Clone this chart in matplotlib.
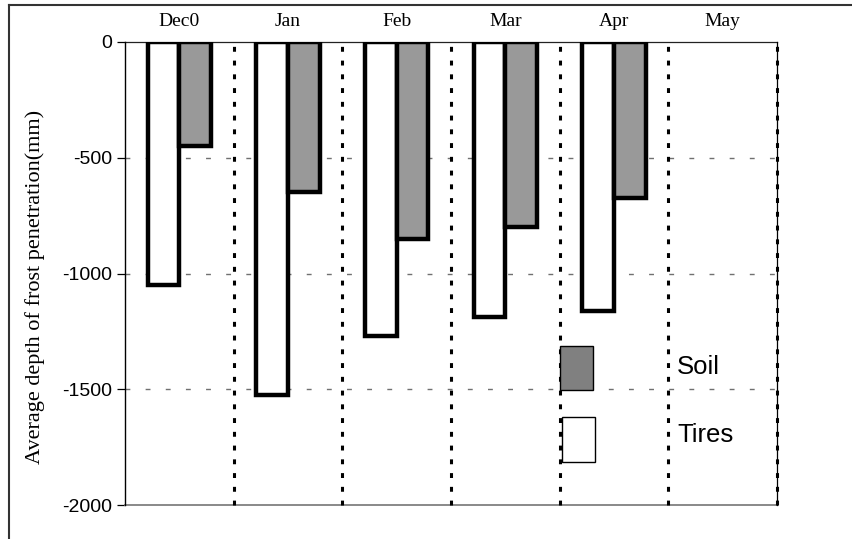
import matplotlib.pyplot as plt
from matplotlib.lines import Line2D
from matplotlib.patches import Rectangle
import numpy as np

# data
months = ["Dec0", "Jan", "Feb", "Mar", "Apr", "May"]
tires = [-1050, -1525, -1270, -1190, -1160]
soil = [-450, -650, -850, -800, -675]
yticks = [0, -500, -1000, -1500, -2000]

W, H = 852, 539
fig = plt.figure(figsize=(W / 100, H / 100), dpi=100)

def fx(px):
    return px / W

def fy(py):
    return 1 - py / H

ax = fig.add_axes([fx(125), fy(505), fx(777) - fx(125), fy(42) - fy(505)])

x = np.arange(len(tires)) + 0.5
bw = 0.29
ax.bar(x - 0.145, tires, width=bw, color="white", edgecolor="black", linewidth=3.2, zorder=3)
ax.bar(x + 0.145, soil, width=bw, color="#999999", edgecolor="black", linewidth=3.2, zorder=3)

ax.set_xlim(0, len(months))
ax.set_ylim(-2000, 0)

# grid lines
for v in [-500, -1000, -1500]:
    ax.axhline(v, color="#707070", lw=1.0, linestyle=(0, (3.5, 11)), zorder=1)
ax.axhline(0, color="#222222", lw=0.9, zorder=2, clip_on=False)
ax.axhline(-2000, color="#808080", lw=1.3, zorder=2, clip_on=False)
for i in range(1, len(months) + 1):
    ax.axvline(i, color="black", lw=2.2, linestyle=(0, (1.6, 2.9)), zorder=2, clip_on=False)
ax.axvline(len(months), color="black", lw=0.9, zorder=2, clip_on=False)

for s in ["top", "right", "bottom"]:
    ax.spines[s].set_visible(False)
ax.spines["left"].set_linewidth(1.0)

ax.set_yticks(yticks)
ax.set_yticklabels([str(v) for v in yticks], fontfamily="Liberation Sans", fontsize=14)
ax.tick_params(axis="y", direction="out", length=6, width=0.9, pad=3)

ax.xaxis.tick_top()
ax.set_xticks(np.arange(len(months)) + 0.5)
ax.set_xticklabels(months, fontfamily="Liberation Serif", fontsize=14)
ax.tick_params(axis="x", length=0, pad=9)

ax.set_ylabel("Average depth of frost penetration(mm)", fontfamily="Liberation Serif", fontsize=16)
ax.yaxis.set_label_coords(-0.123, 0.47)

# legend drawn by hand, like the original
ax.add_patch(Rectangle((fx(560), fy(390)), fx(33), fy(0) - fy(44), transform=fig.transFigure,
                       facecolor="#808080", edgecolor="black", lw=1.0, zorder=5))
ax.add_patch(Rectangle((fx(562), fy(462)), fx(33), fy(0) - fy(45), transform=fig.transFigure,
                       facecolor="white", edgecolor="black", lw=1.0, zorder=5))
fig.text(fx(677), fy(367), "Soil", fontfamily="Liberation Sans", fontsize=18.5, va="center", ha="left")
fig.text(fx(677), fy(435), "Tires", fontfamily="Liberation Sans", fontsize=18.5, va="center", ha="left")

# outer frame (left and top only)
fig.add_artist(Line2D([fx(9), fx(9)], [fy(5), 0], transform=fig.transFigure, color="#333333", lw=1.5))
fig.add_artist(Line2D([fx(9), 1], [fy(5), fy(5)], transform=fig.transFigure, color="#333333", lw=1.5))

plt.savefig("out.png", dpi=100)
